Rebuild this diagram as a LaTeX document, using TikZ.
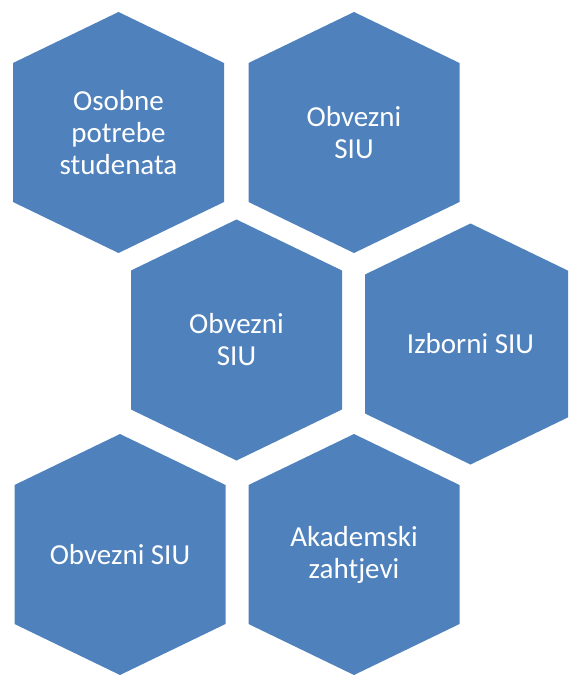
\documentclass[tikz,border=0pt]{standalone}
\usepackage{fontspec}
\setmainfont{Carlito}
\usetikzlibrary{positioning}
\definecolor{hexblue}{HTML}{4F81BD}
\tikzset{
	every hex/.style={
		fill=hexblue,
		draw=none },
	hex label/.style={
		text=white,
		align=center,
		inner sep=0pt,
		font=\fontsize{29}{32}\selectfont },
}

\begin{document}
\begin{tikzpicture}[x=1pt, y=-1pt]
		\useasboundingbox (0,0) rectangle (568,675);
		\clip (0,0) rectangle (568,675);

		\foreach \cx/\cy [count=\i] in {118.5/132.5, 354/132.5, 236.5/340, 470.5/344, 120/554.5, 354/554.5}
		\coordinate (c-\i) at (\cx,\cy);

		\foreach \i in {1,...,6}
		\fill [every hex] (c-\i) ++(0,-120.5) -- ++(105.5,51) -- ++(0,139)
		-- ++(-105.5,51) -- ++(-105.5,-51) -- ++(0,-139) -- cycle;

		\foreach \l [count=\i] in {{Osobne\\potrebe\\studenata}, {Obvezni\\SIU}, {Obvezni\\SIU}, {Izborni SIU}, {Obvezni SIU}, {Akademski\\zahtjevi}}
		\node [hex label] (hex-\i) at (c-\i) {\l};
	\end{tikzpicture}
\end{document}
